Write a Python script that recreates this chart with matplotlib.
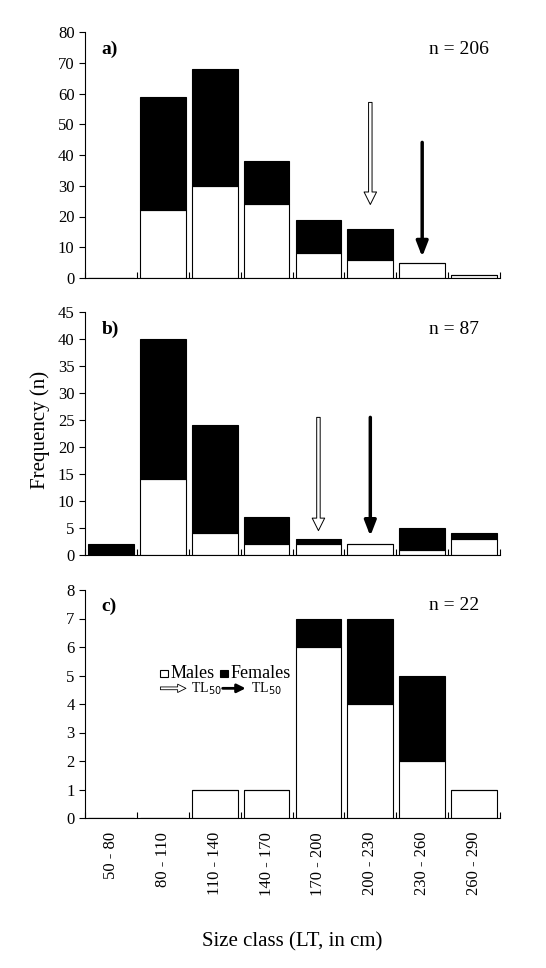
import matplotlib
matplotlib.use("Agg")
import matplotlib.pyplot as plt
import numpy as np

plt.rcParams['font.family'] = ['Liberation Serif', 'DejaVu Serif']

categories = ["50 - 80", "80 - 110", "110 - 140", "140 - 170", "170 - 200", "200 - 230", "230 - 260", "260 - 290"]
males_a = [0, 22, 30, 24, 8, 6, 5, 1]
females_a = [0, 37, 38, 14, 11, 10, 0, 0]
males_b = [0, 14, 4, 2, 2, 2, 1, 3]
females_b = [2, 26, 20, 5, 1, 0, 4, 1]
males_c = [0, 0, 1, 1, 6, 4, 2, 1]
females_c = [0, 0, 0, 0, 1, 3, 3, 0]

W, H = 546, 968
fig = plt.figure(figsize=(W/100, H/100), dpi=100)
def ax_at(l, t, r, b):
    return fig.add_axes([l/W, 1-b/H, (r-l)/W, (b-t)/H])

panels = [
    (ax_at(85, 32, 500, 278), males_a, females_a, 80, 10, "a)", "n = 206", (5, 58, 23), (6, 45, 6)),
    (ax_at(85, 312, 500, 555), males_b, females_b, 45, 5, "b)", "n = 87", (4, 26, 4), (5, 26, 3)),
    (ax_at(85, 590, 500, 818), males_c, females_c, 8, 1, "c)", "n = 22", None, None),
]
x = np.arange(len(categories))
for ax, m, f, ymax, step, lab, ntxt, hollow, solid in panels:
    ax.bar(x, m, width=0.88, color='white', edgecolor='black', linewidth=0.8)
    ax.bar(x, f, bottom=m, width=0.88, color='black', edgecolor='black', linewidth=0.8)
    ax.set_xlim(-0.5, 7.5)
    ax.set_ylim(0, ymax)
    ax.set_yticks(np.arange(0, ymax+0.01, step))
    ax.tick_params(axis='y', labelsize=12, direction='out', length=4)
    ax.set_xticks(np.arange(-0.5, 8, 1))
    ax.tick_params(axis='x', direction='in', length=4, labelbottom=False)
    for s in ['top', 'right']:
        ax.spines[s].set_visible(False)
    ax.text(0.04, 0.93, lab, transform=ax.transAxes, fontsize=14, fontweight='bold', va='center')
    ax.text(0.83, 0.93, ntxt, transform=ax.transAxes, fontsize=14, va='center')
    if hollow:
        xi, y0, y1 = hollow
        ax.annotate('', xy=(xi, y1), xytext=(xi, y0),
                    arrowprops=dict(arrowstyle='simple,head_width=0.9,tail_width=0.25,head_length=0.9',
                                    fc='white', ec='black', lw=0.7))
        xi, y0, y1 = solid
        ax.annotate('', xy=(xi, y1), xytext=(xi, y0),
                    arrowprops=dict(arrowstyle='-|>,head_width=0.35,head_length=0.9', fc='black', ec='black', lw=2.5))

axc = panels[2][0]
axc.set_xticks(x, minor=True)
axc.set_xticklabels(categories, minor=True, rotation=90, fontsize=12)
axc.tick_params(axis='x', which='minor', length=0, pad=10)
# legend
axc.add_patch(plt.Rectangle((0.95, 4.95), 0.15, 0.25, fc='white', ec='black', lw=0.8, clip_on=False))
axc.text(1.15, 5.07, "Males", fontsize=13, va='center')
axc.add_patch(plt.Rectangle((2.1, 4.95), 0.15, 0.25, fc='black', ec='black', lw=0.8, clip_on=False))
axc.text(2.3, 5.07, "Females", fontsize=13, va='center')
axc.annotate('', xy=(1.5, 4.55), xytext=(0.9, 4.55),
             arrowprops=dict(arrowstyle='simple,head_width=0.6,tail_width=0.2,head_length=0.6', fc='white', ec='black', lw=0.6))
axc.text(1.55, 4.55, "TL$_{50}$", fontsize=10, va='center')
axc.annotate('', xy=(2.65, 4.55), xytext=(2.1, 4.55),
             arrowprops=dict(arrowstyle='-|>,head_width=0.25,head_length=0.5', fc='black', ec='black', lw=2))
axc.text(2.7, 4.55, "TL$_{50}$", fontsize=10, va='center')

fig.text(40/W, 1-430/H, "Frequency (n)", rotation=90, fontsize=15, va='center', ha='center')
fig.text(292/W, 1-942/H, "Size class (LT, in cm)", fontsize=15, va='center', ha='center')
fig.savefig("out.png", dpi=100)
